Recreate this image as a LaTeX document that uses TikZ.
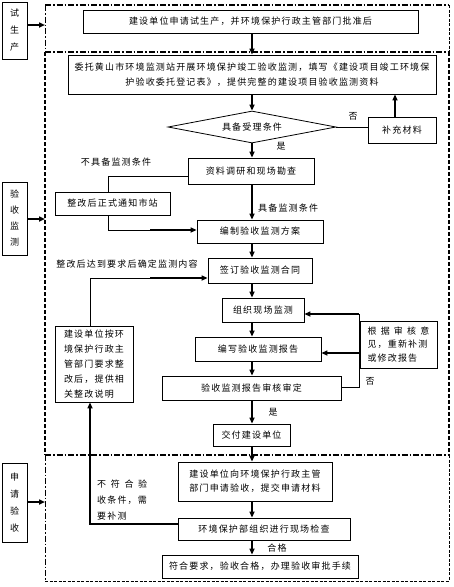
\documentclass[tikz,border=0pt]{standalone}
\usepackage{fontspec}
\setmainfont{Noto Sans CJK SC}[LetterSpace=13]
\usetikzlibrary{arrows.meta,shapes.geometric}
\newcommand\fs{\fontsize{9}{15}\selectfont}
\newcommand\bx[6]{\node[box, minimum width={#4-#2}, minimum height={#5-#3}] (#1) at ({(#2+#4)/2},{(#3+#5)/2}) {#6};}
\tikzset{
  box/.style={draw, line width=0.8pt, inner sep=0pt, align=center, font=\fs},
  lbl/.style={inner sep=0pt, font=\fs},
  arr/.style={line width=1.6pt, -{Triangle[length=6pt,width=5pt]}},
  thinln/.style={line width=0.8pt},
  thickln/.style={line width=1.6pt},
  bdthick/.style={line width=1.5pt, dash pattern=on 6pt off 2pt on 1.5pt off 2pt},
  bdthin/.style={line width=0.8pt, dash pattern=on 6pt off 2pt on 1.5pt off 2pt},
  bddash/.style={line width=1.5pt, dash pattern=on 4pt off 2pt},
  bdfine/.style={line width=0.8pt, dash pattern=on 3pt off 1.5pt},
}
\begin{document}
\begin{tikzpicture}[x=1pt,y=-1pt]
\fill[white] (0,0) rectangle (454,587);
\useasboundingbox (0,0) rectangle (454,587);
% region borders
\draw[bdthick] (45,5) -- (449,5);
\draw[bdthin] (45,5) -- (45,52);
\draw[bdfine] (449,5) -- (449,52);
\draw[bdthick] (45,52) -- (449,52);
\draw[bddash] (45,52) -- (45,455);
\draw[bddash] (449,52) -- (449,455);
\draw[bdthick] (45,455) -- (449,455);
\draw[bdthin] (45,455) -- (45,581);
\draw[bdfine] (449,455) -- (449,581);
\draw[bdfine] (45,581) -- (449,581);
\coordinate (col) at (252,0);
\coordinate (e1) at (45,25);
\coordinate (e2) at (45,219);
\coordinate (e3) at (45,502);
% side boxes
\node[box, minimum width=25, minimum height=57, font=\fontsize{9}{17}\selectfont] (L1) at (14.5,30.5) {试\\生\\产};
\node[box, minimum width=25, minimum height=73, font=\fontsize{9}{16}\selectfont] (L2) at (14.5,218.5) {验\\收\\监\\测};
\node[box, minimum width=25, minimum height=79, font=\fontsize{9}{17}\selectfont] (L3) at (14.5,502.5) {申\\请\\验\\收};
% main boxes
\bx{A}{83}{10}{418}{33}{建设单位申请试生产，并环境保护行政主管部门批准后}
\bx{B}{68}{55}{436}{94}{委托黄山市环境监测站开展环境保护竣工验收监测，填写《建设项目竣工环境保\\护验收委托登记表》，提供完整的建设项目验收监测资料}
\node[draw, diamond, line width=0.8pt, inner sep=0pt, aspect=5, minimum width=168, minimum height=32, font=\fs] (D) at (252,127) {具备受理条件};
\bx{S}{368}{117}{436}{143}{补充材料}
\bx{C}{188}{158}{314}{184}{资料调研和现场勘查}
\bx{Z}{55}{192}{170}{215}{整改后正式通知市站}
\bx{E}{197}{220}{323}{243}{编制验收监测方案}
\bx{F}{208}{258}{312}{283}{签订验收监测合同}
\bx{G}{222}{298}{304}{322}{组织现场监测}
\bx{H}{195}{337}{321}{361}{编写验收监测报告}
\bx{I}{162}{376}{341}{400}{验收监测报告审核审定}
\node[box, minimum width=77, minimum height=47, align=left, font=\fontsize{9}{13.5}\selectfont] (R) at (398.5,344.5) {\makebox[62pt][s]{根\hfil 据\hfil 审\hfil 核\hfil 意}\\见，重新补测\\或修改报告};
\bx{J}{213}{424}{290}{446}{交付建设单位}
\node[box, minimum width=78, minimum height=76, align=left] (K) at (94,364) {建设单位按环\\境保护行政主\\管部门要求整\\改后，提供相\\关整改说明};
\node[box, minimum width=154, minimum height=39, font=\fontsize{9}{14}\selectfont] (M) at (255,481.5) {建设单位向环境保护行政主管\\部门申请验收，提交申请材料};
\bx{N}{178}{518}{350}{540}{环境保护部组织进行现场检查}
\bx{P}{162}{555}{358}{578}{符合要求，验收合格，办理验收审批手续}
% labels
\node[lbl] (no1) at (353,116) {否};
\node[lbl] (yes1) at (281,146) {是};
\node[lbl] (lnc) at (116,162) {不具备监测条件};
\node[lbl, anchor=west] (lc) at (258,208) {具备监测条件};
\node[lbl] (lzg) at (127,264) {整改后达到要求后确定监测内容};
\node[lbl] (no2) at (370,381) {否};
\node[lbl] (yes2) at (273,412) {是};
\node[lbl, anchor=west, align=left, font=\fontsize{9}{16}\selectfont] (lbf) at (97,500) {\makebox[50pt][s]{不\hfil 符\hfil 合\hfil 验}\\收条件，需\\要补测};
\node[lbl] (lhg) at (277,548) {合格};
% side arrows
\draw[arr] (L1.east |- e1) -- (e1);
\draw[arr] (L2.east |- e2) -- (e2);
\draw[arr] (L3.east |- e3) -- (e3);
% main column
\draw[arr] (A.south -| col) -- (B.north -| col);
\draw[arr] (B.south -| col) -- (D.north);
\draw[arr] (D.south) -- (C.north -| col);
\draw[arr] (C.south -| col) -- (E.north -| col);
\draw[arr] (E.south -| col) -- (F.north -| col);
\draw[arr] (F.south -| col) -- (G.north -| col);
\draw[arr] (G.south -| col) -- (H.north -| col);
\draw[arr] (H.south -| col) -- (I.north -| col);
\draw[arr] (I.south -| col) -- (J.north -| col);
\draw[arr] (J.south -| col) -- (M.north -| col);
\draw[arr] (M.south -| col) -- (N.north -| col);
\draw[arr] (N.south -| col) -- (P.north -| col);
% side connections
\coordinate (s1) at (395,0);
\draw[thinln] (D.east) -- (S.west |- D.east);
\draw[arr] (S.north -| s1) -- (B.south -| s1);
\coordinate (c1) at (108,176);
\draw[thinln] (C.west |- c1) -- (c1) -- (Z.north -| c1);
\coordinate (c2) at (108,230);
\draw[thinln] (Z.south -| c2) -- (c2) -- (150,230);
\draw[arr] (150,230) -- (E.west |- c2);
\coordinate (k1) at (90,278);
\draw[thinln] (K.north -| k1) -- (k1) -- (150,278);
\draw[arr] (150,278) -- (F.west |- k1);
\coordinate (r1) at (359,387);
\coordinate (r2) at (359,314);
\coordinate (r3) at (359,353);
\draw[thinln] (I.east |- r1) -- (r1) -- (r2);
\draw[thickln] (r2) -- (330,314);
\draw[arr] (330,314) -- (G.east |- r2);
\draw[arr] (r3) -- (H.east |- r3);
\coordinate (n1) at (90,524);
\draw[thickln] (N.west |- n1) -- (n1) -- (90,430);
\draw[arr] (90,430) -- (K.south -| n1);
\end{tikzpicture}
\end{document}
